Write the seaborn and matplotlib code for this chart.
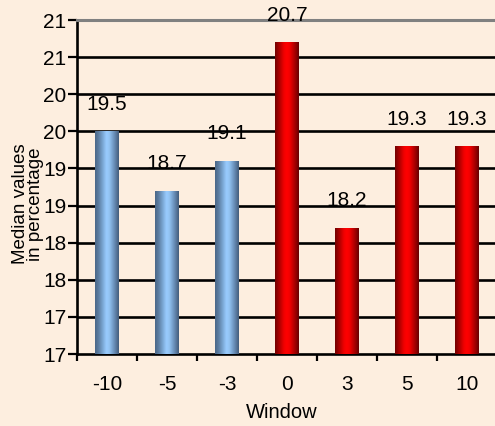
import math
import numpy as np
import pandas as pd
import matplotlib
matplotlib.use("Agg")
import matplotlib.pyplot as plt
import seaborn as sns
from matplotlib.colors import LinearSegmentedColormap
from matplotlib.ticker import MultipleLocator, FixedLocator, FuncFormatter

# Median values per event window
windows = ["-10", "-5", "-3", "0", "3", "5", "10"]
medians = [19.5, 18.7, 19.1, 20.7, 18.2, 19.3, 19.3]
period = ["pre", "pre", "pre", "post", "post", "post", "post"]

y_min, y_max, y_step = 16.5, 21.0, 0.5

bg = "#FDEEDF"
sns.set_theme(style="white")
plt.rcParams["font.family"] = ["Liberation Sans", "DejaVu Sans"]

fig = plt.figure(figsize=(4.95, 4.26), dpi=100, facecolor=bg)
ax = fig.add_axes([77 / 495, (426 - 354) / 426, (495 - 77) / 495, (354 - 20) / 426])
ax.set_facecolor(bg)

df = pd.DataFrame({"Window": windows, "Median": medians, "Period": period})
sns.barplot(data=df, x="Window", y="Median", hue="Period",
            palette={"pre": "#99CCFF", "post": "#FF0000"},
            dodge=False, width=0.39, ax=ax, legend=False,
            edgecolor="none", linewidth=0, zorder=3)

# cylinder-style shading for each bar
blue_cmap = LinearSegmentedColormap.from_list("blue_cyl", [
    (0.0, "#4A6686"), (0.15, "#5C7DA1"), (0.32, "#79A5D2"),
    (0.48, "#99CCFF"), (0.6, "#92C3F2"), (0.8, "#6A90BA"), (1.0, "#435C7A")])
red_cmap = LinearSegmentedColormap.from_list("red_cyl", [
    (0.0, "#700000"), (0.18, "#AC0000"), (0.38, "#F20000"),
    (0.5, "#FF0000"), (0.62, "#F00000"), (0.84, "#A40000"), (1.0, "#640000")])
grad = np.linspace(0, 1, 256).reshape(1, -1)
for patch, p in zip(ax.patches, period):
    x0, w, h = patch.get_x(), patch.get_width(), patch.get_height()
    cmap = blue_cmap if p == "pre" else red_cmap
    im = ax.imshow(grad, cmap=cmap, aspect="auto", interpolation="bicubic",
                   extent=[x0, x0 + w, y_min, h], zorder=3.5)
    im.set_clip_path(patch)

# value labels above each bar
for i, v in enumerate(medians):
    ax.annotate(f"{v:.1f}", xy=(i, v), xytext=(0, 19.5), textcoords="offset points",
                ha="center", va="center", fontsize=15, color="black", zorder=5)

ax.set_xlim(-0.5, -0.5 + (495 - 77) / 60)
ax.set_ylim(y_min, y_max)

# horizontal grid lines
grid_vals = np.arange(y_min + y_step, y_max - y_step / 2, y_step)
ax.hlines(grid_vals, -0.5, 7, colors="black", linewidth=1.9, zorder=1)

ax.yaxis.set_major_locator(MultipleLocator(y_step))
ax.yaxis.set_major_formatter(FuncFormatter(lambda v, _: str(int(math.floor(v + 0.5 + 1e-9)))))
ax.tick_params(axis="y", which="major", direction="out", length=6.5, width=1.6,
               color="black", pad=1, labelsize=15, left=True, labelcolor="black")

ax.xaxis.set_major_locator(FixedLocator(range(len(windows))))
ax.xaxis.set_minor_locator(FixedLocator(np.arange(-0.5, len(windows), 1.0)))
ax.tick_params(axis="x", which="major", length=0, pad=15, labelsize=15, labelcolor="black")
ax.tick_params(axis="x", which="minor", direction="out", length=5, width=1.6,
               color="black", bottom=True)

for s in ["left", "bottom"]:
    ax.spines[s].set_color("black")
    ax.spines[s].set_linewidth(1.9)
ax.spines["top"].set_color("#808080")
ax.spines["top"].set_linewidth(2.2)
ax.spines["right"].set_visible(False)

ax.set_xlabel("")
ax.set_ylabel("")
fig.text(28 / 495, 1 - 204 / 426, "Median values\nin percentage", rotation=90,
         ha="center", va="center", fontsize=13.5, linespacing=0.85, color="black")
fig.text(282 / 495, 1 - 412 / 426, "Window", ha="center", va="center",
         fontsize=14.5, color="black")

fig.savefig("out.png", dpi=100, facecolor=bg)
